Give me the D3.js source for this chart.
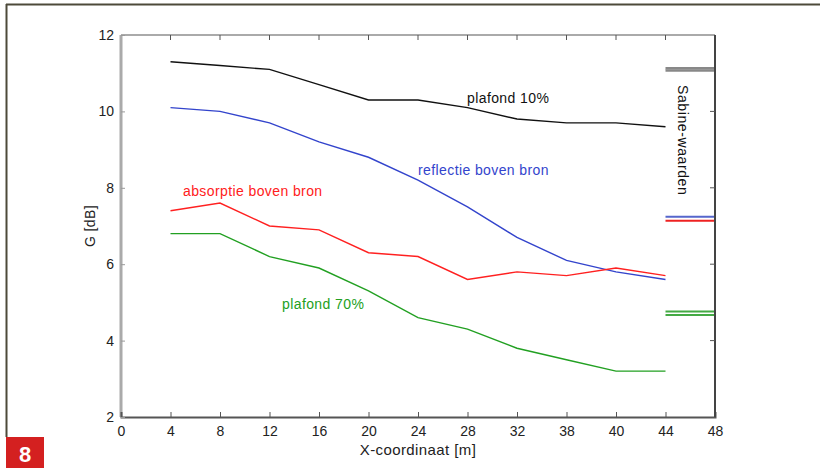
<!DOCTYPE html>
<html>
<head>
<meta charset="utf-8">
<script src="https://cdn.jsdelivr.net/npm/d3@7"></script>
<style>
  body { margin: 0; background: #fff; }
  svg { display: block; font-family: 'Liberation Sans', Arial, sans-serif; }
</style>
</head>
<body>
<div id="chart"></div>
<script>
const xValues = [4, 8, 12, 16, 20, 24, 28, 32, 36, 40, 44];
const plafond10 = [11.3, 11.2, 11.1, 10.7, 10.3, 10.3, 10.1, 9.8, 9.7, 9.7, 9.6];
const reflectie = [10.1, 10.0, 9.7, 9.2, 8.8, 8.2, 7.5, 6.7, 6.1, 5.8, 5.6];
const absorptie = [7.4, 7.6, 7.0, 6.9, 6.3, 6.2, 5.6, 5.8, 5.7, 5.9, 5.7];
const plafond70 = [6.8, 6.8, 6.2, 5.9, 5.3, 4.6, 4.3, 3.8, 3.5, 3.2, 3.2];
const xTicks = [0, 4, 8, 12, 16, 20, 24, 28, 32, 36, 40, 44, 48];
const xTickLabels = ['0', '4', '8', '12', '16', '20', '24', '28', '32', '38', '40', '44', '48'];
const yTicks = [2, 4, 6, 8, 10, 12];
// sabine reference values, drawn as short stubs between x=44 and x=48
const sabineValues = [11.13, 11.07, 7.24, 7.14, 4.76, 4.67];
const sabineColors = ['#888', '#888', '#5566cc', '#ee2222', '#44aa44', '#44aa44'];

const width = 820, height = 468;
const margin = { top: 35, right: 105, bottom: 51, left: 121 };

const svg = d3.select('#chart').append('svg')
  .attr('width', width)
  .attr('height', height);

// page frame
svg.append('line').attr('x1', 6).attr('x2', 820).attr('y1', 4.5).attr('y2', 4.5)
  .attr('stroke', '#4d4a3a').attr('stroke-width', 2);
svg.append('line').attr('x1', 6.5).attr('x2', 6.5).attr('y1', 4).attr('y2', 437)
  .attr('stroke', '#4d4a3a').attr('stroke-width', 2);
svg.append('rect').attr('x', 6).attr('y', 437).attr('width', 38).attr('height', 31)
  .attr('fill', '#d42020');
svg.append('text').attr('x', 25).attr('y', 462).attr('text-anchor', 'middle')
  .attr('fill', '#fff').style('font-size', '22px').style('font-weight', 'bold').text('8');

const x = d3.scaleLinear().domain([0, 48]).range([margin.left, width - margin.right]);
const y = d3.scaleLinear().domain([2, 12]).range([height - margin.bottom, margin.top]);

const x0 = x(0), x1 = x(48), y0 = y(2), y1 = y(12);

// axes frame
svg.append('line').attr('x1', x0).attr('x2', x1).attr('y1', y1).attr('y2', y1)
  .attr('stroke', '#aaa').attr('stroke-width', 2);
svg.append('line').attr('x1', x0).attr('x2', x0).attr('y1', y1).attr('y2', y0)
  .attr('stroke', '#aaa').attr('stroke-width', 3);

const bottomAxis = svg.append('g')
  .attr('transform', 'translate(0,' + y0 + ')')
  .call(d3.axisBottom(x).tickValues(xTicks).tickSize(-5).tickPadding(9)
    .tickFormat((d, i) => xTickLabels[i]));
bottomAxis.select('.domain').attr('stroke', '#555').attr('stroke-width', 2);
bottomAxis.selectAll('line').attr('stroke', '#555');
bottomAxis.selectAll('text').style('font-size', '14px').attr('fill', '#222');

// top ticks pointing inward
svg.append('g').selectAll('line').data(xTicks.slice(1, -1)).enter().append('line')
  .attr('x1', (d) => x(d)).attr('x2', (d) => x(d))
  .attr('y1', y1).attr('y2', y1 + 5)
  .attr('stroke', '#555');

const leftAxis = svg.append('g')
  .attr('transform', 'translate(' + x0 + ',0)')
  .call(d3.axisLeft(y).tickValues(yTicks).tickSize(-4).tickPadding(7));
leftAxis.select('.domain').remove();
leftAxis.selectAll('line').attr('stroke', '#999');
leftAxis.selectAll('text').style('font-size', '14px').attr('fill', '#222');

svg.append('line').attr('x1', x1).attr('x2', x1).attr('y1', y1).attr('y2', y0)
  .attr('stroke', '#444').attr('stroke-width', 2);
svg.append('g').selectAll('line').data(yTicks.slice(1, -1)).enter().append('line')
  .attr('x1', x1 - 5).attr('x2', x1)
  .attr('y1', (d) => y(d)).attr('y2', (d) => y(d))
  .attr('stroke', '#555');

// series
const series = [
  { values: plafond10, color: '#111' },
  { values: reflectie, color: '#3344cc' },
  { values: absorptie, color: '#ff2020' },
  { values: plafond70, color: '#22a022' },
];

const line = d3.line().x((d) => x(d[0])).y((d) => y(d[1]));

series.forEach((s) => {
  svg.append('path')
    .datum(xValues.map((xv, i) => [xv, s.values[i]]))
    .attr('fill', 'none')
    .attr('stroke', s.color)
    .attr('stroke-width', 1.4)
    .attr('d', line);
});

// sabine stubs
svg.append('g').selectAll('line').data(sabineValues).enter().append('line')
  .attr('x1', x(44)).attr('x2', x1 - 1)
  .attr('y1', (d) => y(d)).attr('y2', (d) => y(d))
  .attr('stroke', (d, i) => sabineColors[i])
  .attr('stroke-width', (d, i) => (i < 2 ? 2.5 : 2));

// labels
const labels = [
  { text: 'plafond 10%', x: 467, y: 103, color: '#111' },
  { text: 'reflectie boven bron', x: 418, y: 175, color: '#3344cc' },
  { text: 'absorptie boven bron', x: 183, y: 196, color: '#ff2020' },
  { text: 'plafond 70%', x: 282, y: 309, color: '#22a022' },
];
svg.append('g').selectAll('text').data(labels).enter().append('text')
  .attr('x', (d) => d.x).attr('y', (d) => d.y)
  .attr('fill', (d) => d.color)
  .style('font-size', '14px')
  .style('letter-spacing', '0.4px')
  .text((d) => d.text);

svg.append('text')
  .attr('transform', 'translate(678,85) rotate(90)')
  .attr('fill', '#111')
  .style('font-size', '14px')
  .style('letter-spacing', '0.6px')
  .text('Sabine-waarden');

svg.append('text')
  .attr('transform', 'translate(95,' + (y(7) ) + ') rotate(-90)')
  .attr('text-anchor', 'middle')
  .attr('fill', '#222')
  .style('font-size', '14px')
  .style('letter-spacing', '0.4px')
  .text('G [dB]');

svg.append('text')
  .attr('x', 418).attr('y', 455)
  .attr('text-anchor', 'middle')
  .attr('fill', '#222')
  .style('font-size', '15px')
  .style('letter-spacing', '0.4px')
  .text('X-coordinaat [m]');
</script>
</body>
</html>
